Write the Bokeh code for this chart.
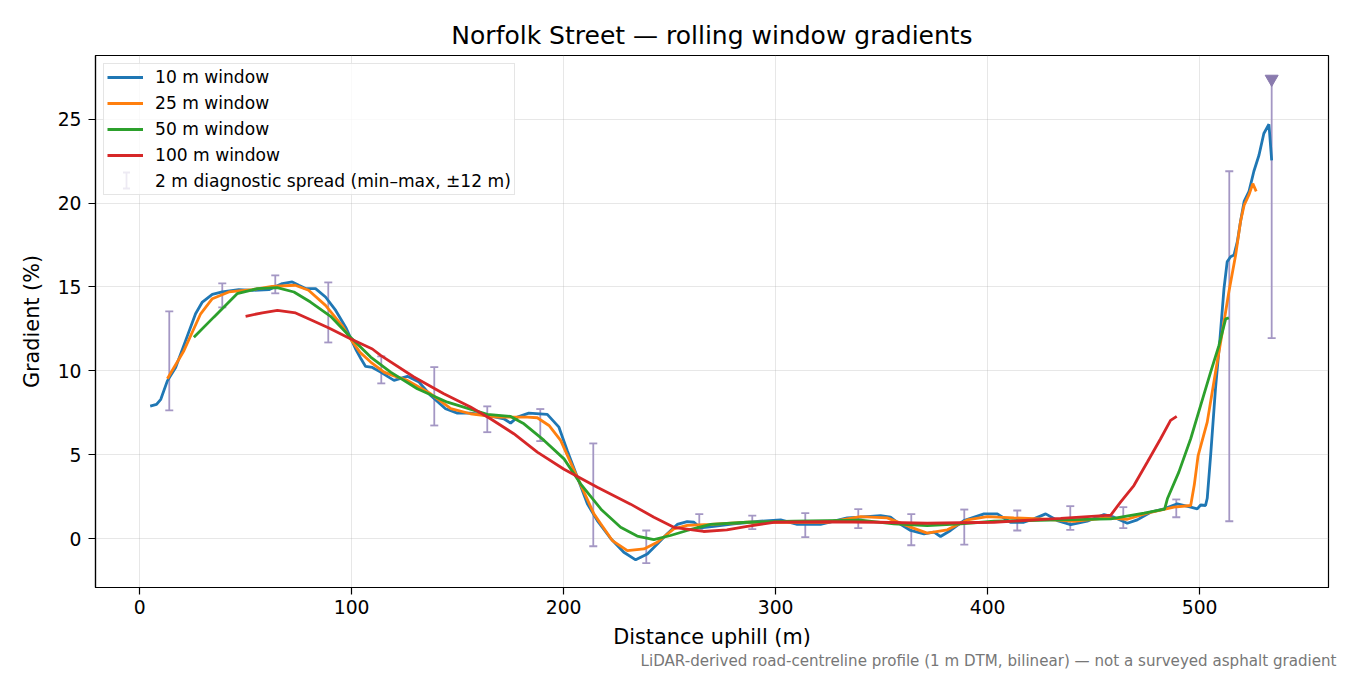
import numpy as np
from bokeh.plotting import figure
from bokeh.models import (Range1d, ColumnDataSource, Whisker, TeeHead, Legend,
                          LegendItem, FixedTicker, Title)
from bokeh.embed import file_html
from bokeh.resources import INLINE

# --- data ---
w10_x = [5, 8, 10, 13.1, 17, 21.7, 26.4, 29.6, 34.3, 39,
         46.8, 53.2, 61, 67.3, 72, 75.1, 78.3, 83, 87.7, 92.5,
         97.2, 101.9, 104.5, 106.6, 109.8, 113.7, 120, 126.3, 131.8, 137.3,
         144.3, 149.9, 156.1, 164, 171.8, 175, 178.2, 183.6, 192.3, 197.8,
         201.7, 206.5, 211.2, 215.9, 222.2, 228.4, 234, 239.5, 244.2, 248.9,
         253.6, 258.3, 261.5, 264.6, 270.9, 280.3, 292.9, 302.4, 310.2, 321.2,
         333.8, 340, 349.5, 354.2, 357.4, 363.7, 370, 374.7, 377.8, 382.5,
         388.8, 398.3, 404.6, 410.8, 417.1, 421.8, 427.4, 432.9, 439.2, 447,
         454.9, 459.6, 465.9, 470.6, 476.9, 483.2, 489.5, 495.8, 498.9, 500.5,
         502.8, 503.6, 505.2, 507.5, 509.6, 511.5, 513, 514.6, 516.2, 517.8,
         519.3, 521, 523.3, 525.6, 528, 530.3, 532.7, 534]
w10_y = [7.9, 8.0, 8.3, 9.4, 10.2, 11.8, 13.4, 14.1, 14.56, 14.7,
         14.84, 14.8, 14.84, 15.2, 15.3, 15.1, 14.9, 14.9, 14.4, 13.6,
         12.6, 11.3, 10.7, 10.26, 10.2, 9.92, 9.43, 9.67, 9.33, 8.53,
         7.74, 7.48, 7.48, 7.34, 7.14, 6.88, 7.24, 7.48, 7.4, 6.64,
         5.25, 3.66, 2.07, 1.07, 0.0, -0.82, -1.27, -0.92, -0.32, 0.28,
         0.84, 1.01, 0.97, 0.64, 0.72, 0.88, 1.03, 1.11, 0.84, 0.84,
         1.23, 1.27, 1.37, 1.27, 0.97, 0.48, 0.28, 0.38, 0.12, 0.48,
         1.07, 1.47, 1.47, 0.97, 0.97, 1.17, 1.47, 1.07, 0.83, 1.03,
         1.43, 1.27, 0.91, 1.11, 1.57, 1.77, 2.07, 1.87, 1.77, 2.0,
         1.97, 2.4, 4.95, 8.95, 11.9, 14.9, 16.5, 16.8, 16.9, 17.7,
         18.9, 20.1, 20.7, 21.9, 22.85, 24.15, 24.7, 22.55]

w25_x = [13.1, 20.9, 28.8, 34.3, 42.1, 53.1, 62.5, 73.4, 79.7, 87.7,
         95.5, 99.5, 104, 109, 115.3, 120, 126.3, 137.3, 146.8, 156.1,
         168.7, 182.9, 187.6, 193.1, 198.6, 207, 214.3, 217.5, 223, 230.1,
         237.9, 244.2, 252, 258.3, 269.3, 286.6, 308.6, 324.3, 340, 352.6,
         363.7, 371.5, 381, 390.4, 399.9, 412.4, 425, 440.7, 456.4, 465.9,
         475.3, 487.9, 495.8, 497.5, 499.3, 503.6, 507.5, 510.7, 513.8, 517,
         519.3, 521, 523.3, 525.1, 526.7]
w25_y = [9.53, 11.2, 13.4, 14.3, 14.7, 14.84, 15.04, 15.1, 14.8, 13.9,
         12.7, 11.9, 11.1, 10.52, 9.92, 9.7, 9.43, 8.63, 7.74, 7.44,
         7.24, 7.24, 7.2, 6.74, 5.85, 3.5, 1.47, 0.88, -0.12, -0.72,
         -0.62, -0.22, 0.58, 0.78, 0.84, 0.97, 0.97, 0.97, 1.3, 1.23,
         0.68, 0.32, 0.52, 1.11, 1.31, 1.23, 1.17, 1.03, 1.23, 1.15,
         1.51, 1.87, 1.97, 3.2, 4.95, 6.94, 9.92, 12.3, 14.7, 16.9,
         18.9, 19.87, 20.5, 21.16, 20.7]

w50_x = [25.6, 35, 46, 55.5, 64.9, 72.8, 80.6, 90.1, 99.5, 109,
         118.4, 131, 145.2, 164, 175, 181.3, 190.8, 200.2, 208, 218,
         226.9, 234.7, 242.6, 250.4, 258.3, 269.3, 286.6, 308.6, 340, 355.8,
         371.5, 387.3, 403, 418.8, 434.5, 458.1, 473.8, 483.5, 484.8, 490.2,
         495.8, 500.5, 505.2, 509.1, 512.3, 513.8]
w50_y = [12.0, 13.2, 14.6, 14.9, 14.96, 14.7, 14.1, 13.25, 12.0, 10.82,
         9.92, 8.93, 8.13, 7.4, 7.28, 6.84, 5.85, 4.75, 3.26, 1.7,
         0.67, 0.15, -0.06, 0.18, 0.48, 0.84, 0.97, 1.03, 1.1, 0.87,
         0.77, 0.87, 1.03, 1.07, 1.11, 1.17, 1.51, 1.75, 2.37, 3.96,
         5.95, 7.94, 9.92, 11.5, 13.1, 13.15]

w100_x = [50, 57.9, 65, 73.6, 81.5, 89.3, 98.7, 109.8, 113.7, 129.4,
          143.5, 156.1, 165.5, 176.5, 187.6, 200.2, 215.9, 231.6, 242.6, 252,
          266, 277, 286.6, 299.1, 324.3, 347.9, 371.5, 403, 434.5, 458.1,
          462.7, 469, 475.3, 481.6, 486.3, 489.2]
w100_y = [13.25, 13.46, 13.6, 13.45, 13.0, 12.55, 11.95, 11.3, 10.92, 9.63,
          8.63, 7.84, 7.14, 6.25, 5.15, 4.13, 3.06, 2.05, 1.27, 0.67,
          0.42, 0.52, 0.72, 0.97, 1.0, 0.97, 0.91, 0.97, 1.2, 1.4,
          2.17, 3.16, 4.55, 5.95, 7.04, 7.28]

diag_x = [14, 39, 64, 89, 114, 139, 164, 189, 214, 239, 264,
          289, 314, 339, 364, 389, 414, 439, 464, 489, 514, 534]
diag_lo = [7.64, 13.78, 14.62, 11.69, 9.25, 6.74, 6.34, 5.81, -0.46, -1.47, 0.58,
           0.56, 0.08, 0.62, -0.4, -0.36, 0.48, 0.52, 0.62, 1.27, 1.03, 11.95]
diag_hi = [13.54, 15.21, 15.69, 15.27, 10.86, 10.22, 7.88, 7.72, 5.67, 0.48, 1.45,
           1.37, 1.51, 1.75, 1.45, 1.73, 1.67, 1.93, 1.87, 2.33, 21.9, 27.4]
# spread that runs off the top of the axis (drawn with a marker instead of a cap)
clip_x = [534]
clip_y = [27.4]

series = [("10 m window", w10_x, w10_y, "#1f77b4"),
          ("25 m window", w25_x, w25_y, "#ff7f0e"),
          ("50 m window", w50_x, w50_y, "#2ca02c"),
          ("100 m window", w100_x, w100_y, "#d62728")]

ERR = "#a497c4"
FONT = "DejaVu Sans"

p = figure(width=1350, height=675,
           x_range=Range1d(-20.8, 560.8), y_range=Range1d(-2.92, 28.8),
           title="Norfolk Street — rolling window gradients",
           x_axis_label="Distance uphill (m)", y_axis_label="Gradient (%)",
           output_backend="svg", toolbar_location=None,
           min_border_left=95, min_border_right=22,
           min_border_top=55, min_border_bottom=88)

p.title.align = "center"
p.title.text_font = FONT
p.title.text_font_size = "25px"
p.title.text_font_style = "normal"
p.title.text_color = "black"
p.title.standoff = 12

p.outline_line_color = "black"
p.outline_line_width = 1.2
p.background_fill_color = "white"
p.border_fill_color = "white"

p.xaxis.ticker = FixedTicker(ticks=[0, 100, 200, 300, 400, 500])
p.yaxis.ticker = FixedTicker(ticks=[0, 5, 10, 15, 20, 25])
for ax in (p.xaxis, p.yaxis):
    ax.axis_line_color = "black"
    ax.axis_line_width = 1.2
    ax.major_tick_out = 7
    ax.major_tick_in = 0
    ax.minor_tick_out = 0
    ax.minor_tick_in = 0
    ax.major_tick_line_width = 1.2
    ax.major_label_text_font = FONT
    ax.major_label_text_font_size = "18.75px"
    ax.major_label_text_color = "black"
    ax.axis_label_text_font = FONT
    ax.axis_label_text_font_size = "20.8px"
    ax.axis_label_text_font_style = "normal"
    ax.axis_label_text_color = "black"
p.xaxis.major_label_standoff = 5
p.xaxis.axis_label_standoff = 8
p.yaxis.major_label_standoff = 7
p.yaxis.axis_label_standoff = 11

p.grid.grid_line_color = "#b0b0b0"
p.grid.grid_line_alpha = 0.3
p.grid.grid_line_width = 1

items = []
for name, xs, ys, col in series:
    r = p.line(xs, ys, line_color=col, line_width=2.8)
    items.append(LegendItem(label=name, renderers=[r]))

n = len(diag_x) - 1
capped = ColumnDataSource(dict(x=diag_x[:n], lo=diag_lo[:n], hi=diag_hi[:n]))
p.add_layout(Whisker(source=capped, base="x", lower="lo", upper="hi",
                     dimension="height", line_color=ERR, line_width=1.8,
                     upper_head=TeeHead(size=8, line_color=ERR, line_width=1.8),
                     lower_head=TeeHead(size=8, line_color=ERR, line_width=1.8)))
clipped = ColumnDataSource(dict(x=diag_x[n:], lo=diag_lo[n:], hi=diag_hi[n:]))
p.add_layout(Whisker(source=clipped, base="x", lower="lo", upper="hi",
                     dimension="height", line_color=ERR, line_width=1.8,
                     upper_head=None,
                     lower_head=TeeHead(size=8, line_color=ERR, line_width=1.8)))
p.scatter(clip_x, clip_y, marker="inverted_triangle", size=13,
          fill_color="#8a7bae", line_color="#8a7bae")

# legend row for the spread: an invisible swatch, with an error-bar symbol drawn over it
err_leg = p.scatter(x=[np.nan], y=[np.nan], marker="dash", size=10,
                    line_color=ERR, line_alpha=0)
items.append(LegendItem(label="2 m diagnostic spread (min–max, ±12 m)",
                        renderers=[err_leg]))

legend = Legend(items=items, location="top_left", margin=8, padding=3,
                glyph_width=36, glyph_height=20, label_height=20, spacing=6,
                label_standoff=12, label_text_color="black",
                label_text_font=FONT, label_text_font_size="17.1px",
                border_line_color="#cccccc", border_line_width=1,
                background_fill_color="white", background_fill_alpha=0.8)
p.add_layout(legend)

# screen position of the fifth legend row (frame-relative, from bottom-left)
sym = ColumnDataSource(dict(x=[31], lo=[399], hi=[415]))
p.add_layout(Whisker(source=sym, base="x", lower="lo", upper="hi",
                     base_units="screen", lower_units="screen", upper_units="screen",
                     dimension="height", line_color=ERR, line_width=1.8,
                     upper_head=TeeHead(size=7, line_color=ERR, line_width=1.8),
                     lower_head=TeeHead(size=7, line_color=ERR, line_width=1.8)))

note = Title(text="LiDAR-derived road-centreline profile (1 m DTM, bilinear) — not a surveyed asphalt gradient",
             align="right", offset=-8, standoff=-4,
             text_font=FONT, text_font_size="15.1px", text_font_style="normal",
             text_color="#777777")
p.add_layout(note, "below")

open("out.html", "w").write(file_html(p, INLINE))
